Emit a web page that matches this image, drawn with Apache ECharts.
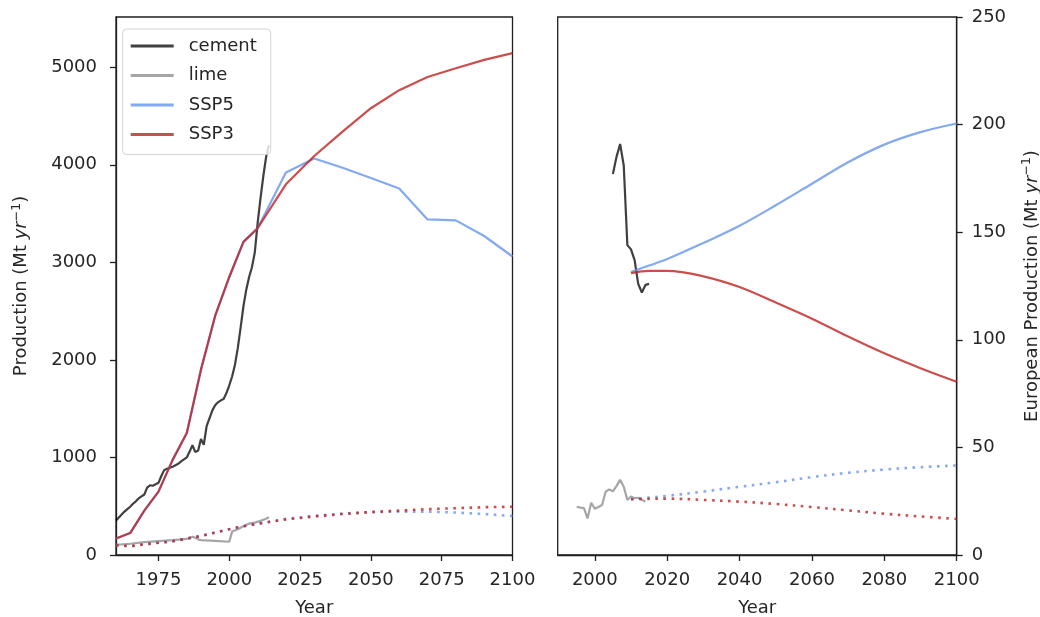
<!DOCTYPE html>
<html>
<head>
<meta charset="utf-8">
<script src="https://cdn.jsdelivr.net/npm/echarts@6/dist/echarts.min.js"></script>
<style>
  html, body { margin: 0; padding: 0; background: #ffffff; }
  #chart { width: 1040px; height: 617px; }
</style>
</head>
<body>
<div id="chart"></div>
<script>
// ---- Global production (Mt/yr) ----
const cementGlobalStart = 1960;
const cementGlobal = [
  355, 385, 415, 445, 470, 495, 525, 550, 580, 600,      // 1960-1969
  620, 690, 715, 710, 725, 740, 810, 870, 885, 895,      // 1970-1979
  905, 920, 935, 960, 980, 1000, 1060, 1125, 1055, 1070, // 1980-1989
  1190, 1130, 1320, 1400, 1480, 1535, 1565, 1585, 1600, 1660, // 1990-1999
  1740, 1830, 1950, 2120, 2330, 2550, 2720, 2850, 2950, 3100, // 2000-2009
  3400, 3650, 3880, 4080, 4200                           // 2010-2014
];
const limeGlobalYears = [1960, 1965, 1970, 1975, 1980, 1985, 1987, 1988, 1989, 1990, 1995, 2000, 2001, 2003, 2005, 2007, 2009, 2011, 2013, 2014];
const limeGlobal      = [105, 115, 132, 142, 152, 165, 188, 176, 160, 152, 145, 136, 240, 265, 295, 322, 332, 350, 372, 386];

const sspGlobalYears   = [1960, 1965, 1970, 1975, 1980, 1985, 1990, 1995, 2000, 2005, 2010, 2020, 2030, 2040, 2050, 2060, 2070, 2080, 2090, 2100];
const ssp5CementGlobal = [170, 225, 455, 650, 975, 1250, 1900, 2450, 2850, 3210, 3350, 3920, 4065, 3970, 3865, 3757, 3440, 3430, 3270, 3060];
const ssp3CementGlobal = [170, 225, 455, 650, 975, 1250, 1900, 2450, 2850, 3210, 3350, 3800, 4090, 4340, 4580, 4765, 4900, 4990, 5075, 5145];
const ssp5LimeGlobal   = [100, 90, 110, 125, 140, 168, 195, 230, 265, 295, 320, 370, 400, 425, 440, 445, 445, 435, 420, 400];
const ssp3LimeGlobal   = [100, 90, 110, 125, 140, 168, 195, 230, 265, 295, 320, 365, 395, 420, 440, 455, 470, 480, 490, 495];

// ---- European production (Mt/yr) ----
const cementEuropeStart = 2005;
const cementEurope = [177, 185, 191, 181, 144, 142, 137, 126, 122, 125.5, 126];
const limeEuropeStart = 1995;
const limeEurope = [22.4, 22.0, 21.8, 17.0, 24.3, 21.5, 22.3, 23.2, 29.4, 30.5, 29.6, 32.0, 35.0, 31.7, 25.6, 27.2, 26.4, 26.6, 25.7, 24.8];

const sspEuropeYears   = [2010, 2015, 2020, 2030, 2040, 2050, 2060, 2070, 2080, 2090, 2100];
const ssp5CementEurope = [131.5, 134.5, 137.5, 145, 153, 162.5, 172.5, 182.5, 190.7, 196.5, 200.5];
const ssp3CementEurope = [131, 132, 132, 129.5, 124.5, 117.3, 109.8, 101.5, 93.7, 86.8, 80.5];
const ssp5LimeEurope   = [25.9, 26.7, 27.5, 29.5, 31.7, 33.8, 36.2, 38.2, 39.7, 40.8, 41.6];
const ssp3LimeEurope   = [25.9, 26.1, 26.2, 25.6, 24.8, 23.7, 22.3, 20.7, 19.2, 17.9, 16.8];

// ---- Axis ticks ----
const globalYearTicks = [1975, 2000, 2025, 2050, 2075, 2100];
const europeYearTicks = [2000, 2020, 2040, 2060, 2080, 2100];
const globalValueTicks = [0, 1000, 2000, 3000, 4000, 5000];

// ---- helpers ----
const annual = (start, vals) => vals.map((v, i) => [start + i, v]);
const paired = (xs, ys) => xs.map((x, i) => [x, ys[i]]);
const plain = (v) => String(v);

const FONT = 'DejaVu Sans';
const TXT = '#262626';
const FRAME = '#1f1f1f';

const C_CEMENT = 'rgba(0,0,0,0.75)';
const C_LIME = 'rgba(128,128,128,0.7)';
const C_SSP5 = 'rgba(100,149,237,0.8)';
const C_SSP3 = 'rgba(192,32,32,0.8)';

function lineSeries(name, xi, data, color, dotted, smooth) {
  return {
    name: name,
    type: 'line',
    xAxisIndex: xi,
    yAxisIndex: xi,
    data: data,
    symbol: 'none',
    smooth: smooth || false,
    silent: true,
    itemStyle: { color: color },
    lineStyle: dotted
      ? { color: color, width: 2.6, type: [2.6, 5.5], cap: 'butt' }
      : { color: color, width: 2.2 },
    emphasis: { disabled: true }
  };
}

const rich = {
  it: { fontFamily: FONT, fontSize: 18, fontStyle: 'italic', color: TXT },
  sup: { fontFamily: FONT, fontSize: 12.5, color: TXT, padding: [0, 0, 10, 0] }
};

function xAxisCfg(gi, min, max, ticks) {
  return {
    type: 'value', gridIndex: gi, min: min, max: max,
    name: 'Year', nameLocation: 'middle', nameGap: 44,
    nameTextStyle: { fontFamily: FONT, fontSize: 18, color: TXT },
    axisLine: { show: true, lineStyle: { color: FRAME, width: 1.3 } },
    axisTick: { show: true, length: 6, customValues: ticks, lineStyle: { color: FRAME, width: 1.3 } },
    axisLabel: { customValues: ticks, margin: 16, fontFamily: FONT, fontSize: 18, color: TXT, formatter: plain },
    splitLine: { show: false }
  };
}

const gridBase = {
  top: 17, height: 538, show: true, borderColor: FRAME, borderWidth: 1.3,
  backgroundColor: 'transparent', containLabel: false, outerBoundsMode: 'none'
};

const option = {
  animation: false,
  backgroundColor: '#ffffff',
  grid: [
    Object.assign({}, gridBase, { left: 116, width: 396.5 }),
    Object.assign({}, gridBase, { left: 557.7, width: 399 })
  ],
  xAxis: [
    xAxisCfg(0, 1960, 2100, globalYearTicks),
    xAxisCfg(1, 1989.75, 2100, europeYearTicks)
  ],
  yAxis: [
    {
      type: 'value', gridIndex: 0, min: 0, max: 5515,
      name: 'Production (Mt {it|yr}{sup|−1})', nameLocation: 'middle', nameGap: 83,
      nameTextStyle: { fontFamily: FONT, fontSize: 18, color: TXT, rich: rich },
      axisLine: { show: true, lineStyle: { color: FRAME, width: 1.3 } },
      axisTick: { show: true, length: 6, customValues: globalValueTicks, lineStyle: { color: FRAME, width: 1.3 } },
      axisLabel: { customValues: globalValueTicks, margin: 19, fontFamily: FONT, fontSize: 18, color: TXT, formatter: plain },
      splitLine: { show: false }
    },
    {
      type: 'value', gridIndex: 1, position: 'right', min: 0, max: 250, interval: 50,
      name: 'European Production (Mt {it|yr}{sup|−1})', nameLocation: 'middle', nameGap: 64,
      nameTextStyle: { fontFamily: FONT, fontSize: 18, color: TXT, rich: rich },
      axisLine: { show: true, lineStyle: { color: FRAME, width: 1.3 } },
      axisTick: { show: true, length: 6, lineStyle: { color: FRAME, width: 1.3 } },
      axisLabel: { margin: 15, fontFamily: FONT, fontSize: 18, color: TXT, formatter: plain },
      splitLine: { show: false }
    }
  ],
  legend: {
    orient: 'vertical',
    left: 122.7,
    top: 29,
    data: [
      { name: 'cement', icon: 'rect' },
      { name: 'lime', icon: 'rect' },
      { name: 'SSP5', icon: 'rect' },
      { name: 'SSP3', icon: 'rect' }
    ],
    itemWidth: 43,
    itemHeight: 2.8,
    itemGap: 11.5,
    padding: [8, 14, 11, 8],
    backgroundColor: 'rgba(255,255,255,0.8)',
    borderColor: '#d4d4d4',
    borderWidth: 1,
    borderRadius: 4,
    selectedMode: false,
    textStyle: { fontFamily: FONT, fontSize: 18, color: TXT, padding: [0, 0, 0, 10] }
  },
  series: [
    // global panel
    lineSeries('cement', 0, annual(cementGlobalStart, cementGlobal), C_CEMENT, false),
    lineSeries('lime', 0, paired(limeGlobalYears, limeGlobal), C_LIME, false),
    lineSeries('SSP5', 0, paired(sspGlobalYears, ssp5CementGlobal), C_SSP5, false),
    lineSeries('SSP3', 0, paired(sspGlobalYears, ssp3CementGlobal), C_SSP3, false),
    lineSeries('SSP5', 0, paired(sspGlobalYears, ssp5LimeGlobal), C_SSP5, true),
    lineSeries('SSP3', 0, paired(sspGlobalYears, ssp3LimeGlobal), C_SSP3, true),
    // European panel
    lineSeries('cement', 1, annual(cementEuropeStart, cementEurope), C_CEMENT, false),
    lineSeries('lime', 1, annual(limeEuropeStart, limeEurope), C_LIME, false),
    lineSeries('SSP5', 1, paired(sspEuropeYears, ssp5CementEurope), C_SSP5, false, 0.35),
    lineSeries('SSP3', 1, paired(sspEuropeYears, ssp3CementEurope), C_SSP3, false, 0.35),
    lineSeries('SSP5', 1, paired(sspEuropeYears, ssp5LimeEurope), C_SSP5, true, 0.35),
    lineSeries('SSP3', 1, paired(sspEuropeYears, ssp3LimeEurope), C_SSP3, true, 0.35)
  ]
};

const chart = echarts.init(document.getElementById('chart'), null, { renderer: 'canvas' });
chart.setOption(option);
</script>
</body>
</html>
